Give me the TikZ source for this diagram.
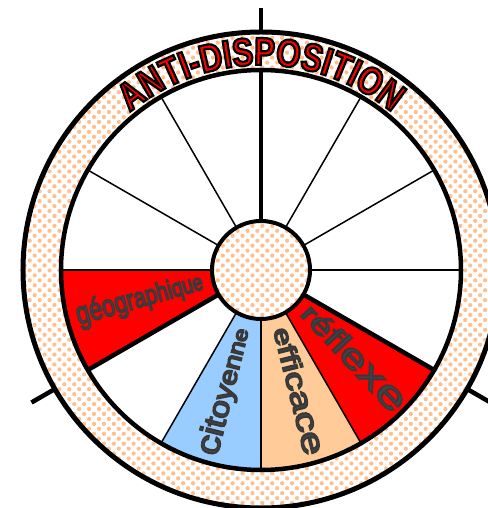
\documentclass[tikz,border=0pt]{standalone}
\usepackage{fontspec}
\setmainfont{Liberation Sans}
\newfontfamily\titlefont{Liberation Sans}[FakeStretch=0.8]
\usetikzlibrary{patterns.meta,decorations.text}

\definecolor{dotorange}{RGB}{255,190,140}
\definecolor{skyblue}{RGB}{153,204,255}
\definecolor{peach}{RGB}{255,204,153}
\definecolor{inkgray}{RGB}{68,68,68}

% filled + stroked glyphs (text render mode 2, passed to xdvipdfmx)
\newcommand\redoutline{\color{red}\special{pdf:literal direct 0 0 0 RG 2.2 w 2 Tr}}
\newcommand\grayoutline{\special{pdf:literal direct 0.22 0.22 0.22 RG 1.5 w 2 Tr}}
\newcommand\titlestyle{\titlefont\bfseries\fontsize{39}{39}\selectfont\redoutline}

\tikzset{
  dotfill/.style={preaction={fill=white, even odd rule},
    preaction={even odd rule, pattern={Dots[radius=2.1pt,distance=7pt,angle=45]},
      pattern color=dotorange}},
  axis/.style={line width=4.5pt},
  spoke/.style={line width=1.5pt},
  letter/.style={inner sep=0pt, text=inkgray, anchor=mid},
}

\begin{document}
\begin{tikzpicture}[x=1pt,y=1pt]
\useasboundingbox (-261,-238) rectangle (226,270);

% =====================================================================
% Coloured sectors (30 deg each, inner rim r=200)
% =====================================================================
\fill[red]     (0,0) -- (180:200) arc[start angle=180,end angle=210,radius=200] -- cycle;
\fill[skyblue] (0,0) -- (240:200) arc[start angle=240,end angle=270,radius=200] -- cycle;
\fill[peach]   (0,0) -- (270:200) arc[start angle=270,end angle=300,radius=200] -- cycle;
\fill[red]     (0,0) -- (300:200) arc[start angle=300,end angle=330,radius=200] -- cycle;

% thin spokes between hub and rim
\foreach \a in {0,30,60,120,150,180,240,270,300}
  \draw[spoke] (\a:48) -- (\a:200);

% three thick axes, running out past the ring
\draw[axis] (90:48)  -- (90:262);
\draw[axis] (210:48) -- (210:265);
\draw[axis] (330:48) -- (330:265);

% =====================================================================
% Dotted ring and hub
% =====================================================================
\path[dotfill, even odd rule] (0,0) circle[radius=238] (0,0) circle[radius=200];
\draw[line width=5pt]   (0,0) circle[radius=238];
\draw[line width=4.5pt] (0,0) circle[radius=200];
\draw[dotfill, line width=4pt] (0,0) circle[radius=49];

% =====================================================================
% Sector words, letter by letter, growing towards the rim
% (advance = glyph width in em * size * xscale)
% =====================================================================

% geographique   bisector 196   reads inward   size 32 -> 24
\def\rcur{190}
\foreach \ch/\w [count=\i] in {g/.556,é/.556,o/.556,g/.556,r/.333,a/.556,
                              p/.556,h/.556,i/.222,q/.556,u/.556,e/.556}{
  \pgfmathsetmacro{\s}{32-(\i-1)*8/11}
  \pgfmathsetmacro{\rmid}{\rcur-0.38*\w*\s}
  \pgfmathsetmacro{\rnext}{\rcur-0.76*\w*\s}
  \node[letter, font=\fontsize{\s}{\s}\selectfont, rotate=16, xscale=0.76]
    (geo-\i) at (196:\rmid) {\grayoutline\ch};
  \xdef\rcur{\rnext}
}

% citoyenne   bisector 256   reads inward   size 34 -> 20
\def\rcur{192}
\foreach \ch/\w [count=\i] in {c/.5,i/.222,t/.278,o/.556,y/.5,
                              e/.556,n/.556,n/.556,e/.556}{
  \pgfmathsetmacro{\s}{34-(\i-1)*14/8}
  \pgfmathsetmacro{\rmid}{\rcur-0.58*\w*\s}
  \pgfmathsetmacro{\rnext}{\rcur-1.16*\w*\s}
  \node[letter, font=\fontsize{\s}{\s}\selectfont, rotate=76, xscale=1.16]
    (cit-\i) at (256:\rmid) {\grayoutline\ch};
  \xdef\rcur{\rnext}
}

% efficace   bisector 284   reads outward   size 24 -> 32
\def\rcur{61}
\foreach \ch/\w [count=\i] in {e/.556,f/.278,f/.278,i/.222,
                              c/.5,a/.556,c/.5,e/.556}{
  \pgfmathsetmacro{\s}{24+(\i-1)*8/7}
  \pgfmathsetmacro{\rmid}{\rcur+0.67*\w*\s}
  \pgfmathsetmacro{\rnext}{\rcur+1.34*\w*\s}
  \node[letter, font=\fontsize{\s}{\s}\selectfont, rotate=-76, xscale=1.34]
    (eff-\i) at (284:\rmid) {\grayoutline\ch};
  \xdef\rcur{\rnext}
}

% reflexe   bisector 313   reads outward   size 26 -> 38
\def\rcur{59}
\foreach \ch/\w [count=\i] in {r/.333,é/.556,f/.278,l/.222,
                              e/.556,x/.5,e/.556}{
  \pgfmathsetmacro{\s}{26+(\i-1)*12/6}
  \pgfmathsetmacro{\rmid}{\rcur+0.7*\w*\s}
  \pgfmathsetmacro{\rnext}{\rcur+1.4*\w*\s}
  \node[letter, font=\fontsize{\s}{\s}\selectfont, rotate=-47, xscale=1.4]
    (ref-\i) at (313:\rmid) {\grayoutline\ch};
  \xdef\rcur{\rnext}
}

% =====================================================================
% Title bent along the ring
% =====================================================================
\path[decorate, decoration={text along path, text align=center,
    text={|\titlestyle|ANTI-DISPOSITION}}]
  (150:205) arc[start angle=150, end angle=30, radius=205];

\end{tikzpicture}
\end{document}
